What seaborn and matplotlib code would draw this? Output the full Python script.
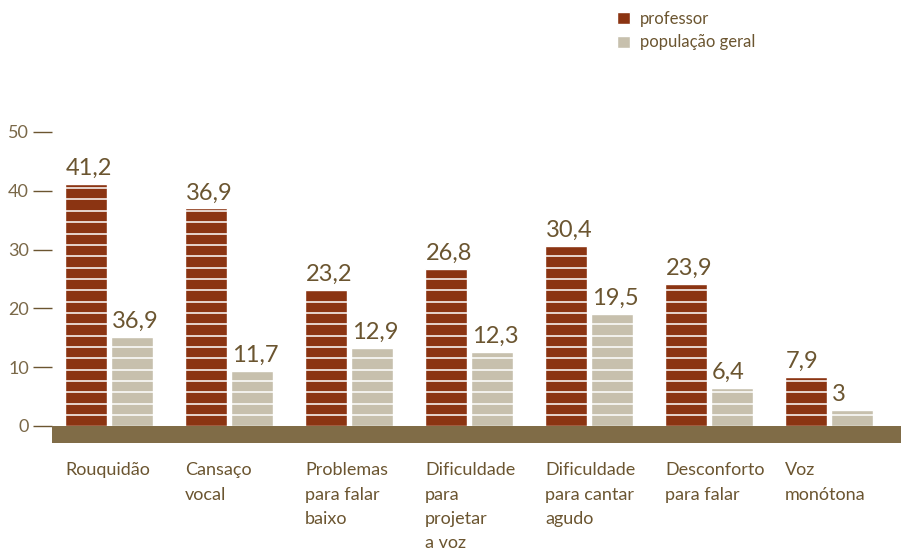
import pandas as pd
import matplotlib
matplotlib.use("Agg")
import matplotlib.pyplot as plt
import seaborn as sns

# dados
categorias = ["Rouquidão", "Cansaço\nvocal", "Problemas\npara falar\nbaixo",
              "Dificuldade\npara\nprojetar\na voz", "Dificuldade\npara cantar\nagudo",
              "Desconforto\npara falar", "Voz\nmonótona"]
professor = [41.2, 37.0, 23.1, 26.7, 30.6, 24.2, 8.4]
populacao = [15.2, 9.4, 13.3, 12.6, 19.0, 6.5, 2.7]
rotulos_prof = ["41,2", "36,9", "23,2", "26,8", "30,4", "23,9", "7,9"]
rotulos_pop = ["36,9", "11,7", "12,9", "12,3", "19,5", "6,4", "3"]
grupos = ["professor", "população geral"]
yticks = [0, 10, 20, 30, 40, 50]

cor_prof = "#8b3412"
cor_pop = "#c7c0ad"
cor_chao = "#806c47"
cor_texto = "#6b5530"

df = pd.DataFrame({
    "categoria": categorias * 2,
    "grupo": [grupos[0]] * len(categorias) + [grupos[1]] * len(categorias),
    "valor": professor + populacao,
})

sns.set_style("white")
plt.rcParams["font.family"] = ["Lato", "DejaVu Sans"]

fig = plt.figure(figsize=(9.01, 5.49), dpi=100)
ax = fig.add_axes([52 / 901, 106 / 549, 849 / 901, 311 / 549])

sns.barplot(data=df, x="categoria", y="valor", hue="grupo", order=categorias,
            hue_order=grupos, palette={grupos[0]: cor_prof, grupos[1]: cor_pop},
            width=0.767, gap=0.087, saturation=1, ax=ax, zorder=1)

ax.set_xlim(-0.475, 6.6)
ax.set_ylim(-2.9, 50)

# chão
ax.axhspan(-2.9, 0, color=cor_chao, zorder=2, lw=0)

# listras brancas nas barras
for i in range(23):
    ax.axhline(1.85 + 1.93 * i, color="white", lw=1.1, zorder=2)

# rótulos de valor
for cont, rot in zip(ax.containers, [rotulos_prof, rotulos_pop]):
    for barra, txt in zip(cont, rot):
        ax.annotate(txt, (barra.get_x(), barra.get_height()), xytext=(0.5, 6.5),
                    textcoords="offset points", ha="left", va="baseline",
                    fontsize=17, color=cor_texto, zorder=4)

# eixos
for s in ax.spines.values():
    s.set_visible(False)
ax.set_yticks(yticks)
ax.set_yticklabels([str(v) for v in yticks])
ax.tick_params(axis="y", direction="out", length=13.7, width=1, color=cor_texto,
               pad=3, labelsize=13, labelcolor="#7a6848", left=True)
ax.set_xticks([i - 0.367 for i in range(len(categorias))])
ax.set_xticklabels(categorias, ha="left", va="top", linespacing=1.62)
ax.tick_params(axis="x", length=0, pad=14, labelsize=13, labelcolor=cor_texto)
ax.set_xlabel("")
ax.set_ylabel("")

# legenda
ax.get_legend().remove()
h, l = ax.get_legend_handles_labels()
ax.legend(h[:2], grupos, frameon=False, loc="upper left",
          bbox_to_anchor=(617 / 901, 1 - 11 / 549), bbox_transform=fig.transFigure,
          handlelength=0.75, handleheight=0.75, handletextpad=0.6, labelspacing=0.45,
          borderpad=0, borderaxespad=0, fontsize=12, labelcolor=cor_texto)

fig.savefig("out.png", dpi=100)
